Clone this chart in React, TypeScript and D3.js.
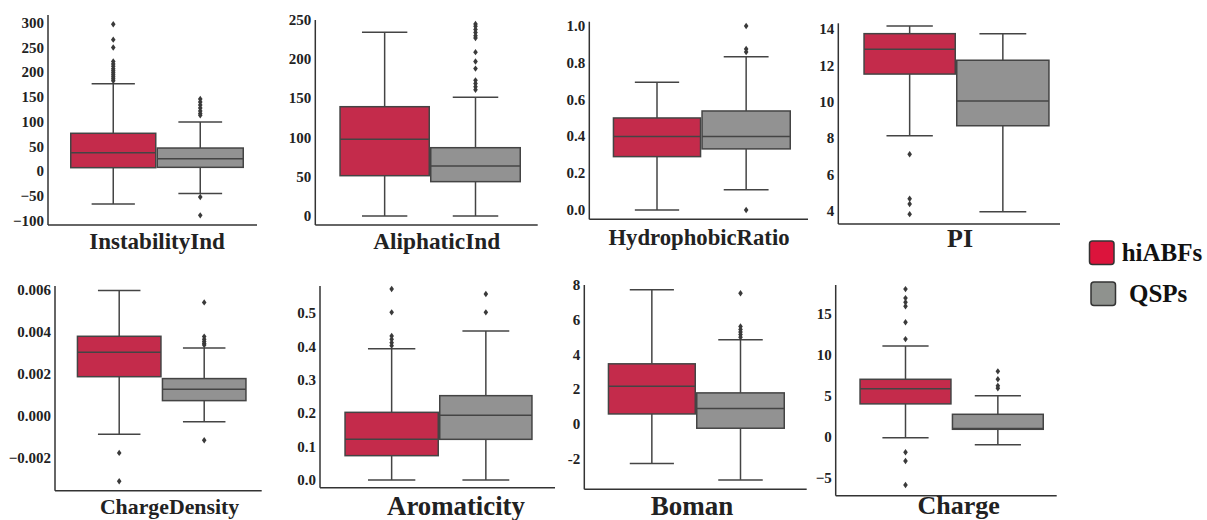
import React from "react";
import * as d3 from "d3";

// ---------- data ----------
const features = [
  "InstabilityInd",
  "AliphaticInd",
  "HydrophobicRatio",
  "PI",
  "ChargeDensity",
  "Aromaticity",
  "Boman",
  "Charge",
];
const groups = ["hiABFs", "QSPs"];

// [lower whisker, Q1, median, Q3, upper whisker]
const hiABFsStats = [
  [-66, 7.3, 37.6, 76.8, 177],
  [0, 51.4, 97.8, 139.4, 234.3],
  [0, 0.29, 0.4, 0.5, 0.694],
  [8.15, 11.54, 12.9, 13.76, 14.18],
  [-0.00087, 0.00187, 0.00303, 0.003795, 0.00597],
  [0, 0.073, 0.122, 0.203, 0.394],
  [-2.26, 0.59, 2.18, 3.47, 7.72],
  [-0.12, 4.0, 5.86, 7.0, 11.06],
];
const qspsStats = [
  [-45, 8, 25.5, 47, 99.6],
  [0, 43.8, 63.8, 87.1, 151.4],
  [0.11, 0.332, 0.4, 0.538, 0.833],
  [3.98, 8.7, 10.06, 12.3, 13.76],
  [-0.00027, 0.00073, 0.00127, 0.00178, 0.00324],
  [0, 0.122, 0.194, 0.253, 0.447],
  [-3.2, -0.23, 0.9, 1.8, 4.86],
  [-0.98, 0.9, 1.0, 2.73, 5.0],
];
const hiABFsOutliers = [
  [297, 266, 250, 222, 217, 212, 207, 203, 199, 195, 191, 187, 183],
  [],
  [],
  [7.13, 4.69, 4.4, 3.84],
  [-0.00176, -0.00311],
  [0.573, 0.503, 0.432, 0.422, 0.412, 0.403],
  [],
  [18.0, 16.9, 16.4, 15.9, 13.95, 11.9, -1.9, -2.96, -5.9],
];
const qspsOutliers = [
  [146, 140, 134, 128, 122, 117, 113, -52, -89],
  [245, 242, 238, 234, 230, 227, 209, 197, 188, 173, 169, 165, 161],
  [1.0, 0.875, 0.858, 0.0],
  [],
  [0.00541, 0.00378, 0.00365, 0.00355, 0.00345, 0.00338, -0.00116],
  [0.558, 0.503],
  [7.53, 5.62, 5.45, 5.3, 5.15, 5.0],
  [7.97, 7.0, 6.2, 5.9],
];
// y-axis extents (value at bottom axis, value at top of axis)
const yDomains = [
  [-108.5, 315.8],
  [-11.5, 250],
  [-0.0505, 1.023],
  [3.3, 14.33],
  [-0.00356, 0.00619],
  [-0.0231, 0.582],
  [-3.74, 8.0],
  [-7.2, 18.5],
];
const tickValues = [
  [-100, -50, 0, 50, 100, 150, 200, 250, 300],
  [0, 50, 100, 150, 200, 250],
  [0, 0.2, 0.4, 0.6, 0.8, 1.0],
  [4, 6, 8, 10, 12, 14],
  [-0.002, 0, 0.002, 0.004, 0.006],
  [0, 0.1, 0.2, 0.3, 0.4, 0.5],
  [-2, 0, 2, 4, 6, 8],
  [-5, 0, 5, 10, 15],
];
const tickLabels = [
  ["\u2212100", "\u221250", "0", "50", "100", "150", "200", "250", "300"],
  ["0", "50", "100", "150", "200", "250"],
  ["0.0", "0.2", "0.4", "0.6", "0.8", "1.0"],
  ["4", "6", "8", "10", "12", "14"],
  ["\u22120.002", "0.000", "0.002", "0.004", "0.006"],
  ["0.0", "0.1", "0.2", "0.3", "0.4", "0.5"],
  ["-2", "0", "2", "4", "6", "8"],
  ["\u22125", "0", "5", "10", "15"],
];

// ---------- layout ----------
type Layout = {
  ax: number; top: number; bottom: number; right: number;
  bx: [number, number, number];
  title: { x: number; y: number; size: number };
};
const layouts: Layout[] = [
  { ax: 48, top: 15, bottom: 225, right: 257, bx: [70, 156.5, 244], title: { x: 157, y: 248.5, size: 23 } },
  { ax: 315.3, top: 20, bottom: 225, right: 537.7, bx: [339.3, 430, 521], title: { x: 436.7, y: 248.5, size: 23.3 } },
  { ax: 589.3, top: 21.7, bottom: 219.3, right: 808, bx: [612.7, 701.3, 791], title: { x: 699, y: 245, size: 22.7 } },
  { ax: 838.3, top: 23.3, bottom: 224, right: 1060, bx: [863.3, 956, 1049.7], title: { x: 960, y: 246.7, size: 26 } },
  { ax: 55, top: 286, bottom: 490.7, right: 261.7, bx: [76.7, 161.7, 246.7], title: { x: 169.5, y: 513.5, size: 21.8 } },
  { ax: 320, top: 286, bottom: 487.7, right: 555, bx: [344.3, 439, 532.7], title: { x: 456, y: 515, size: 26.8 } },
  { ax: 584.3, top: 285, bottom: 489.3, right: 806.7, bx: [607.7, 696, 785], title: { x: 692, y: 515, size: 27 } },
  { ax: 835.7, top: 285, bottom: 495.7, right: 1056.7, bx: [859.3, 951.7, 1044], title: { x: 958.7, y: 514, size: 26 } },
];

const boxFill = ["#C42B4B", "#929292"];
const legendFill = ["#DC143C", "#8F928E"];
const edge = "#444444";
const serif = "Liberation Serif, Tinos, Times New Roman, DejaVu Serif, serif";

function diamond(x: number, y: number) {
  const w = 2.3, h = 3.2;
  return `M${x},${y - h}L${x + w},${y}L${x},${y + h}L${x - w},${y}Z`;
}

const textStyle = (size: number): React.CSSProperties => ({
  fontFamily: serif,
  fontWeight: 700,
  fontSize: `${size}px`,
});

function Panel({ i }: { i: number }) {
  const L = layouts[i];
  const y = d3.scaleLinear().domain(yDomains[i]).range([L.bottom, L.top]);
  const stats = [hiABFsStats[i], qspsStats[i]];
  const outs = [hiABFsOutliers[i], qspsOutliers[i]];
  return (
    <g>
      {/* axes */}
      <line x1={L.ax} x2={L.ax} y1={L.top} y2={L.bottom} stroke="#333" strokeWidth={1.5} />
      <line x1={L.ax} x2={L.right} y1={L.bottom} y2={L.bottom} stroke="#333" strokeWidth={1.5} />
      {tickValues[i].map((t, k) => (
        <text
          key={k}
          x={L.ax - 4}
          y={y(t)}
          textAnchor="end"
          dominantBaseline="central"
          style={textStyle(15)}
          fill="#222"
        >
          {tickLabels[i][k]}
        </text>
      ))}
      {stats.map((s, g) => {
        const x0 = L.bx[g];
        const x1 = L.bx[g + 1];
        const cx = (x0 + x1) / 2;
        const cw = (x1 - x0) / 4;
        const [lo, q1, med, q3, hi] = s;
        return (
          <g key={g}>
            <line x1={cx} x2={cx} y1={y(hi)} y2={y(q3)} stroke={edge} strokeWidth={1.5} />
            <line x1={cx} x2={cx} y1={y(q1)} y2={y(lo)} stroke={edge} strokeWidth={1.5} />
            <line x1={cx - cw} x2={cx + cw} y1={y(hi)} y2={y(hi)} stroke={edge} strokeWidth={1.5} />
            <line x1={cx - cw} x2={cx + cw} y1={y(lo)} y2={y(lo)} stroke={edge} strokeWidth={1.5} />
            <rect
              x={x0 + 0.75}
              y={y(q3)}
              width={x1 - x0 - 1.5}
              height={y(q1) - y(q3)}
              fill={boxFill[g]}
              stroke={edge}
              strokeWidth={1.5}
            />
            <line x1={x0 + 0.75} x2={x1 - 0.75} y1={y(med)} y2={y(med)} stroke={edge} strokeWidth={1.5} />
            {outs[g].map((v, k) => (
              <path key={k} d={diamond(cx, y(v))} fill="#3a3a3a" />
            ))}
          </g>
        );
      })}
      <text
        x={L.title.x}
        y={L.title.y}
        textAnchor="middle"
        style={textStyle(L.title.size)}
        fill="#222"
      >
        {features[i]}
      </text>
    </g>
  );
}

export default function App() {
  const legendY = [241, 282];
  const legendX = [1089.5, 1091];
  const legendTextX = [1121.7, 1129];
  return (
    <svg
      width={1207}
      height={520}
      style={{ position: "absolute", left: 0, top: 0, background: "#fff" }}
    >
      <rect width={1207} height={520} fill="#fff" />
      {features.map((_, i) => (
        <Panel key={i} i={i} />
      ))}
      {groups.map((g, k) => (
        <g key={g}>
          <rect
            x={legendX[k]}
            y={legendY[k]}
            width={24.5}
            height={23.5}
            rx={3}
            fill={legendFill[k]}
            stroke="#333"
            strokeWidth={1.5}
          />
          <text
            x={legendTextX[k]}
            y={legendY[k] + 19.5}
            style={textStyle(25)}
            fill="#111"
          >
            {g}
          </text>
        </g>
      ))}
    </svg>
  );
}
